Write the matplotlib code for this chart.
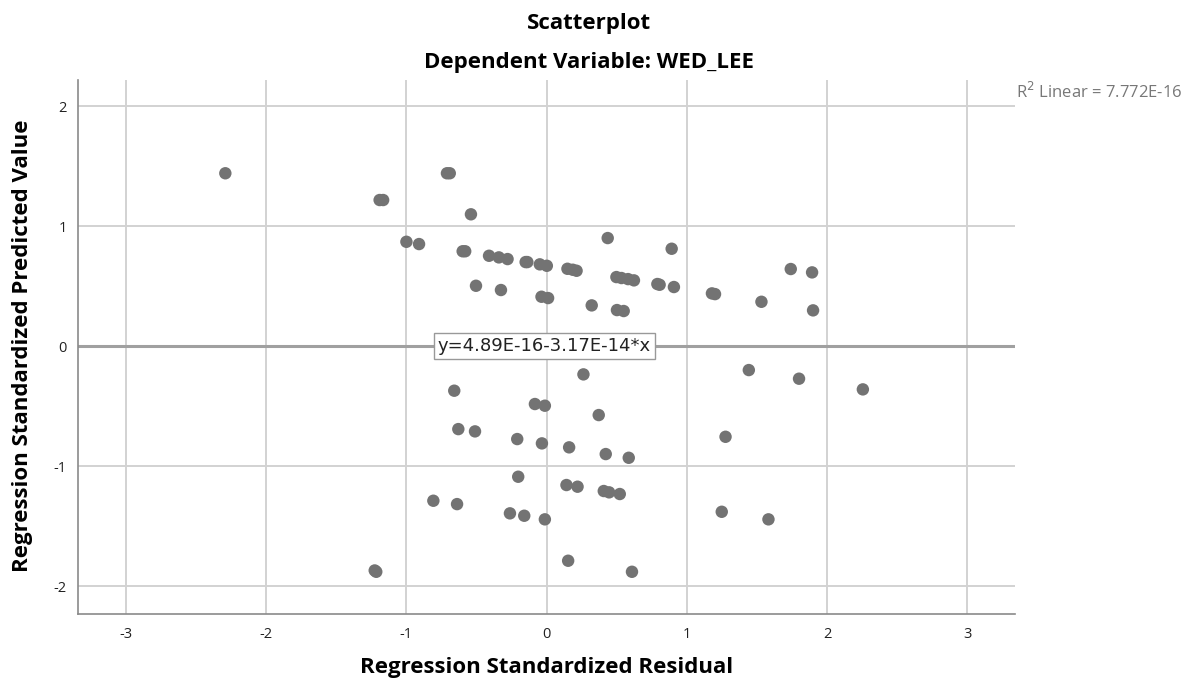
import matplotlib
matplotlib.use("Agg")
import matplotlib.pyplot as plt

# Data
residual = [-2.29, -0.71, -0.69, -1.19, -1.165, -0.539, -0.999, -0.909, -0.598, -0.58,
            -0.41, -0.34, -0.278, -0.149, -0.137, -0.048, 0.002, 0.149, 0.187, 0.214,
            0.436, 0.892, 0.498, 0.534, 0.581, 0.623, 0.79, 0.806, 0.908, 1.179,
            1.201, 1.532, 1.741, 1.893, 1.90, -0.503, -0.325, -0.036, 0.011, 0.322,
            0.502, 0.55,
            0.263, -0.658, -0.083, -0.012, 0.372, -0.629, -0.51, -0.209, -0.033, 0.161,
            0.422, 0.586, -0.202, 0.142, 0.221, 0.408, 0.446, 0.522, -0.807, -0.638,
            -0.261, -0.159, -0.012, 0.154, 0.609, -1.214, -1.225, 1.442, 1.80, 2.255,
            1.276, 1.249, 1.582]
predicted = [1.44, 1.44, 1.44, 1.217, 1.217, 1.098, 0.869, 0.85, 0.79, 0.79,
             0.7525, 0.739, 0.725, 0.70, 0.70, 0.681, 0.669, 0.644, 0.636, 0.6275,
             0.90, 0.811, 0.575, 0.567, 0.558, 0.5475, 0.517, 0.511, 0.492, 0.439,
             0.433, 0.369, 0.642, 0.614, 0.2975, 0.5025, 0.467, 0.411, 0.40, 0.339,
             0.30, 0.292,
             -0.236, -0.372, -0.483, -0.497, -0.575, -0.692, -0.711, -0.775, -0.811, -0.844,
             -0.90, -0.931, -1.089, -1.158, -1.172, -1.208, -1.219, -1.233, -1.289, -1.317,
             -1.394, -1.414, -1.444, -1.789, -1.881, -1.881, -1.87, -0.20, -0.272, -0.361,
             -0.756, -1.381, -1.444]
fit_intercept = 4.89e-16
fit_slope = -3.17e-14
x_ticks = [-3, -2, -1, 0, 1, 2, 3]
y_ticks = [-2, -1, 0, 1, 2]

plt.rcParams['font.family'] = ['Open Sans', 'DejaVu Sans']

fig = plt.figure(figsize=(11.97, 6.84), dpi=100)
ax = fig.add_axes([0.0652, 0.1023, 0.7828, 0.7807])

ax.set_xlim(-3.34, 3.34)
ax.set_ylim(-2.233, 2.217)

ax.set_xticks(x_ticks)
ax.set_yticks(y_ticks)
ax.set_xticklabels([str(t) for t in x_ticks])
ax.set_yticklabels([str(t) for t in y_ticks])
ax.tick_params(length=0, labelsize=10.5, colors='#222222')
ax.tick_params(axis='x', pad=9)
ax.tick_params(axis='y', pad=8)

ax.grid(True, color='#d2d2d2', linewidth=1.4)
ax.set_axisbelow(True)
for side in ['top', 'right']:
    ax.spines[side].set_visible(False)
for side in ['left', 'bottom']:
    ax.spines[side].set_color('#8a8a8a')
    ax.spines[side].set_linewidth(1.2)

# fit line
xs = [-3.34, 3.34]
ax.plot(xs, [fit_intercept + fit_slope * v for v in xs], color='#a0a0a0', linewidth=2.2, zorder=2)

ax.scatter(residual, predicted, s=80, color='#737373', edgecolors='none', zorder=3)

ax.text(-0.775, 0.0, 'y=4.89E-16-3.17E-14*x', fontsize=13, color='#222222',
        family='DejaVu Sans', ha='left', va='center', zorder=4,
        bbox=dict(boxstyle='square,pad=0.22', facecolor='white', edgecolor='#999999', linewidth=1))

fig.text(0.492, 0.966, 'Scatterplot', ha='center', va='center', fontsize=16, fontweight='bold')
fig.text(0.492, 0.908, 'Dependent Variable: WED_LEE', ha='center', va='center', fontsize=16, fontweight='bold')
fig.text(0.849, 0.866, r'R$^2$ Linear = 7.772E-16', ha='left', va='center', fontsize=12, color='#777777')

fig.text(0.457, 0.024, 'Regression Standardized Residual', ha='center', va='center',
         fontsize=16, fontweight='bold')
fig.text(0.019, 0.494, 'Regression Standardized Predicted Value', ha='center', va='center',
         rotation=90, fontsize=16, fontweight='bold')

fig.savefig('out.png', dpi=100)
